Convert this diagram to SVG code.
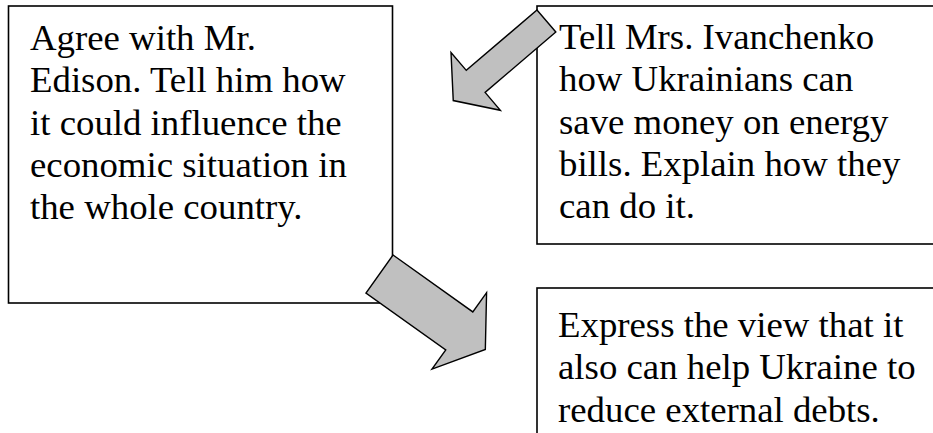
<svg xmlns="http://www.w3.org/2000/svg" width="933" height="433" viewBox="0 0 933 433">
  <style>
    .box { fill: #ffffff; stroke: #000000; stroke-width: 1.6; }
    .label { font-family: "Liberation Serif", "Times New Roman", serif; font-size: 36.8px; fill: #000000; }
    .arrow { fill: #c0c0c0; stroke: #000000; stroke-width: 1.4; stroke-linejoin: miter; }
  </style>
  <rect x="0" y="0" width="933" height="433" fill="#ffffff"/>

  <g id="node-box1">
    <rect class="box" x="8.5" y="6" width="384" height="297"/>
    <text class="label">
      <tspan x="30" y="50">Agree with Mr.</tspan>
      <tspan x="30" y="92.3">Edison. Tell him how</tspan>
      <tspan x="30" y="134.6">it could influence the</tspan>
      <tspan x="30" y="176.9">economic situation in</tspan>
      <tspan x="30" y="219.2">the whole country.</tspan>
    </text>
  </g>

  <g id="node-box2">
    <rect class="box" x="537" y="6" width="410" height="238"/>
    <text class="label">
      <tspan x="559" y="49">Tell Mrs. Ivanchenko</tspan>
      <tspan x="559" y="91.3">how Ukrainians can</tspan>
      <tspan x="559" y="133.6">save money on energy</tspan>
      <tspan x="559" y="175.9">bills. Explain how they</tspan>
      <tspan x="559" y="218.2">can do it.</tspan>
    </text>
  </g>

  <g id="node-box3">
    <rect class="box" x="537" y="288" width="410" height="160"/>
    <text class="label">
      <tspan x="558" y="337">Express the view that it</tspan>
      <tspan x="558" y="379.3">also can help Ukraine to</tspan>
      <tspan x="558" y="421.6">reduce external debts.</tspan>
    </text>
  </g>

  <g id="connectors">
    <polygon id="arrow-box2-to-box1" class="arrow" transform="translate(546.4 21) rotate(139.5)"
      points="0,-14.5 93,-14.5 93,-38 122.5,0 93,38 93,14.5 0,14.5"/>
    <polygon id="arrow-box1-to-box3" class="arrow" transform="translate(379.5 274) rotate(35.5)"
      points="0,-23.3 98,-23.3 98,-47 130,0 98,47 98,23.3 0,23.3"/>
  </g>
</svg>
